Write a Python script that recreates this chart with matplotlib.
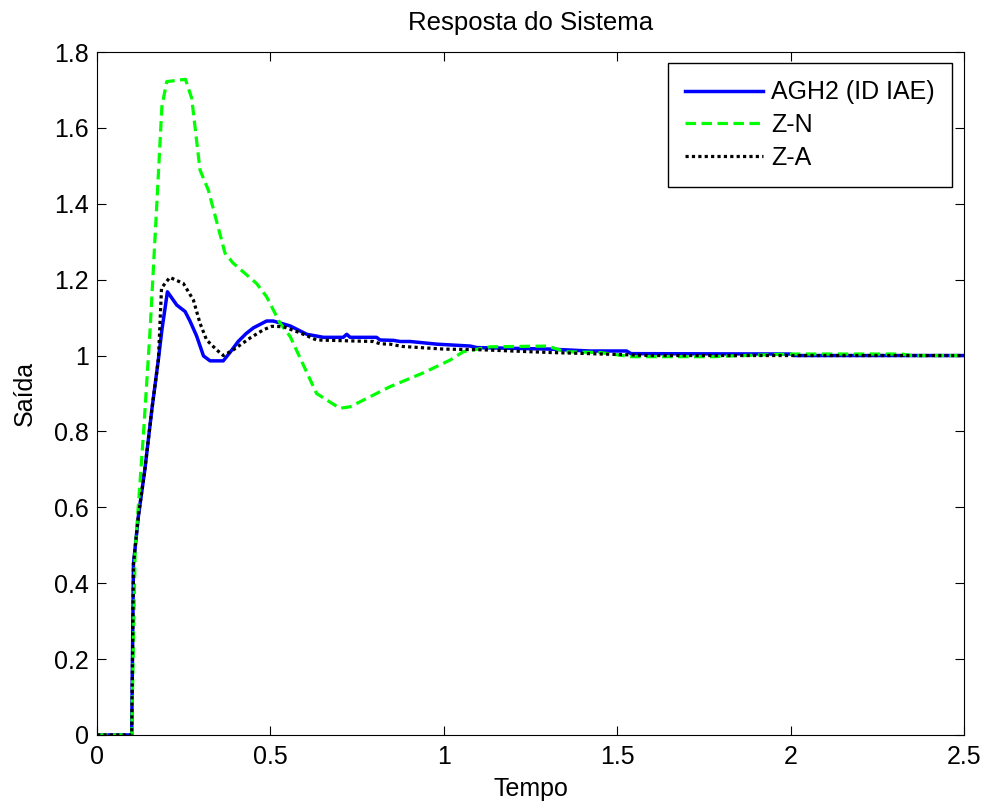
import matplotlib
matplotlib.use("Agg")
import matplotlib.pyplot as plt
from matplotlib.ticker import FuncFormatter

# AGH2 (ID IAE) response
t_agh2 = [0, 0.1, 0.105, 0.119, 0.138, 0.158, 0.177, 0.187, 0.203, 0.23, 0.254,
          0.268, 0.287, 0.307, 0.326, 0.364, 0.385, 0.407, 0.43, 0.451, 0.489,
          0.508, 0.557, 0.605, 0.653, 0.71, 0.72, 0.73, 0.806, 0.816, 0.855,
          0.874, 0.903, 0.98, 1.076, 1.095, 1.306, 1.42, 1.527, 1.54, 2.0, 2.01, 2.5]
y_agh2 = [0, 0, 0.45, 0.575, 0.70, 0.857, 0.99, 1.067, 1.168, 1.133, 1.116,
          1.091, 1.052, 0.999, 0.986, 0.986, 1.01, 1.037, 1.058, 1.073, 1.091,
          1.091, 1.078, 1.056, 1.048, 1.048, 1.056, 1.048, 1.048, 1.041, 1.04,
          1.037, 1.037, 1.030, 1.025, 1.021, 1.017, 1.012, 1.012, 1.005, 1.004, 1.0, 1.0]

# Ziegler-Nichols
t_zn = [0, 0.1, 0.11, 0.119, 0.134, 0.153, 0.172, 0.187, 0.201, 0.255, 0.273,
        0.297, 0.321, 0.369, 0.392, 0.46, 0.489, 0.528, 0.557, 0.633, 0.70,
        0.73, 0.845, 0.94, 1.018, 1.056, 1.133, 1.30, 1.35, 1.45, 1.54, 1.78,
        1.8, 2.0, 2.32, 2.35, 2.5]
y_zn = [0, 0, 0.488, 0.602, 0.795, 1.067, 1.392, 1.656, 1.722, 1.728, 1.678,
        1.489, 1.436, 1.27, 1.244, 1.19, 1.155, 1.085, 1.05, 0.90, 0.861,
        0.865, 0.918, 0.954, 0.988, 1.010, 1.023, 1.025, 1.01, 1.008, 0.997, 0.997,
        0.998, 1.004, 1.004, 1.0, 1.0]

# Z-A
t_za = [0, 0.1, 0.105, 0.119, 0.138, 0.158, 0.177, 0.186, 0.21, 0.249, 0.278,
        0.297, 0.316, 0.345, 0.364, 0.393, 0.441, 0.48, 0.504, 0.537, 0.585,
        0.633, 0.797, 0.816, 0.845, 0.88, 1.0, 1.113, 1.306, 1.42, 1.6, 2.5]
y_za = [0, 0, 0.45, 0.575, 0.70, 0.857, 0.99, 1.178, 1.206, 1.19, 1.146,
        1.085, 1.041, 1.015, 1.0, 1.015, 1.046, 1.068, 1.077, 1.076, 1.06,
        1.041, 1.037, 1.031, 1.03, 1.024, 1.017, 1.015, 1.008, 1.005, 1.0, 1.0]

x_ticks = [0, 0.5, 1, 1.5, 2, 2.5]
y_ticks = [0, 0.2, 0.4, 0.6, 0.8, 1, 1.2, 1.4, 1.6, 1.8]

plt.rcParams['font.family'] = ['Liberation Sans', 'DejaVu Sans']
plt.rcParams['font.size'] = 18

fig = plt.figure(figsize=(9.86, 8.05), dpi=100)
ax = fig.add_axes([0.0984, 0.087, 0.8793, 0.8484])

ax.plot(t_agh2, y_agh2, color='#0000ff', linewidth=2.5, label='AGH2 (ID IAE)')
ax.plot(t_zn, y_zn, color='#00ff00', linewidth=2.3, dashes=(3.3, 1.7), label='Z-N')
ax.plot(t_za, y_za, color='black', linewidth=2.3, dashes=(1, 1), label='Z-A')

ax.set_xlim(0, 2.5)
ax.set_ylim(0, 1.8)
ax.set_xticks(x_ticks)
ax.set_yticks(y_ticks)
fmt = FuncFormatter(lambda v, p: '%g' % v)
ax.xaxis.set_major_formatter(fmt)
ax.yaxis.set_major_formatter(fmt)
ax.tick_params(direction='in', top=True, right=True, length=6.5, width=0.8)
ax.tick_params(axis='x', pad=7)
ax.tick_params(axis='y', pad=6)

ax.set_title('Resposta do Sistema', pad=16, fontsize=18.5)
ax.set_xlabel('Tempo', labelpad=6)
ax.set_ylabel('Saída', labelpad=12)

leg = ax.legend(loc='upper right', bbox_to_anchor=(0.9862, 0.9839), borderaxespad=0,
                fancybox=False, edgecolor='black', framealpha=1, handlelength=3.1,
                handletextpad=0.32, labelspacing=0.35, borderpad=0.7)
leg.get_frame().set_linewidth(1)

fig.savefig('out.png', dpi=100)
